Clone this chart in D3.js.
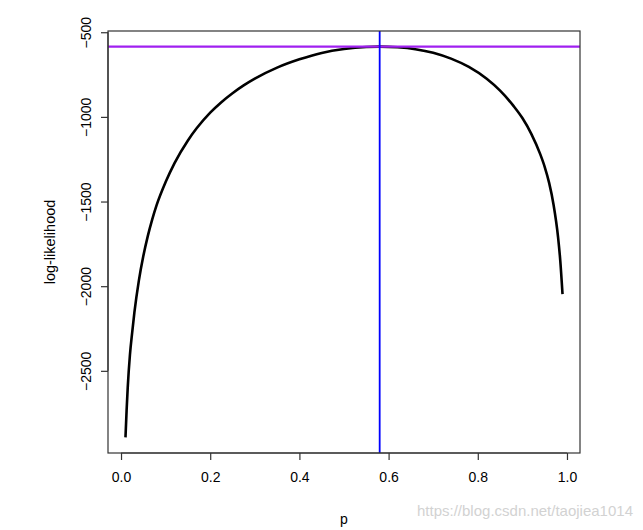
<!DOCTYPE html>
<html>
<head>
<meta charset="utf-8">
<script src="https://cdn.jsdelivr.net/npm/d3@7"></script>
<style>
  html, body { margin: 0; padding: 0; background: #fff; }
  svg { display: block; font-family: "Liberation Sans", Arial, Helvetica, sans-serif; }
</style>
</head>
<body>
<svg id="chart" width="643" height="530"></svg>
<script>
// ---- data ----
const pValues = [0.01, 0.0125, 0.015, 0.02, 0.025, 0.03, 0.04, 0.05, 0.06, 0.07, 0.08, 0.10, 0.12, 0.15, 0.17,
  0.20, 0.225, 0.25, 0.275, 0.30, 0.35, 0.40, 0.45, 0.50, 0.55, 0.58, 0.62, 0.66, 0.70, 0.74, 0.78, 0.82,
  0.85, 0.88, 0.90, 0.92, 0.94, 0.95, 0.96, 0.97, 0.98, 0.985, 0.99];
const logLik = [-2893, -2735, -2601, -2405, -2274, -2155, -1967, -1822, -1704, -1605, -1520, -1385, -1273, -1139, -1066,
  -975, -913, -860, -814, -774, -709, -660, -622, -599, -587, -585, -589, -600, -621, -656, -705, -775,
  -845, -935, -1007, -1100, -1220, -1295, -1390, -1520, -1710, -1850, -2047];
const xTicks = [0.0, 0.2, 0.4, 0.6, 0.8, 1.0];
const yTicks = [-2500, -2000, -1500, -1000, -500];
const pHat = 0.58;
const xLabel = "p";
const yLabel = "log-likelihood";
const watermark = "https://blog.csdn.net/taojiea1014";

// ---- layout ----
const svg = d3.select("#chart");
const box = { left: 108, right: 580, top: 31, bottom: 453 };

function expand(ext) { const r = ext[1] - ext[0]; return [ext[0] - 0.04 * r, ext[1] + 0.04 * r]; }
const x = d3.scaleLinear().domain(expand(d3.extent(pValues))).range([box.left, box.right]);
const y = d3.scaleLinear().domain(expand(d3.extent(logLik))).range([box.bottom, box.top]);

const data = pValues.map((p, i) => ({ p, v: logLik[i] }));
const maxLogLik = d3.max(logLik);

// clip
svg.append("clipPath").attr("id", "clip").append("rect")
  .attr("x", box.left).attr("y", box.top)
  .attr("width", box.right - box.left).attr("height", box.bottom - box.top);

const plot = svg.append("g").attr("clip-path", "url(#clip)");

// curve
plot.append("path")
  .datum(data)
  .attr("fill", "none")
  .attr("stroke", "#000")
  .attr("stroke-width", 2.6)
  .attr("stroke-linejoin", "round")
  .attr("stroke-linecap", "butt")
  .attr("d", d3.line().x(d => x(d.p)).y(d => y(d.v)).curve(d3.curveMonotoneX));

// horizontal purple line at max
plot.append("line")
  .attr("x1", box.left).attr("x2", box.right)
  .attr("y1", y(maxLogLik)).attr("y2", y(maxLogLik))
  .attr("stroke", "#A020F0").attr("stroke-width", 2.2);

// vertical blue line at p-hat
plot.append("line")
  .attr("x1", x(pHat)).attr("x2", x(pHat))
  .attr("y1", box.top).attr("y2", box.bottom)
  .attr("stroke", "#0000FF").attr("stroke-width", 1.8);

// box
svg.append("rect")
  .attr("x", box.left).attr("y", box.top)
  .attr("width", box.right - box.left).attr("height", box.bottom - box.top)
  .attr("fill", "none").attr("stroke", "#333").attr("stroke-width", 1.2);

// x axis
const xAxis = d3.axisBottom(x).tickValues(xTicks).tickFormat(d3.format(".1f")).tickSize(7).tickPadding(12);
const gx = svg.append("g").attr("transform", `translate(0,${box.bottom})`).call(xAxis);
gx.select(".domain").attr("stroke", "#333").attr("stroke-width", 1.2)
  .attr("d", `M${x(xTicks[0])},0H${x(xTicks[xTicks.length - 1])}`);
gx.selectAll(".tick line").attr("stroke", "#333").attr("stroke-width", 1.2);
gx.selectAll(".tick text").attr("font-size", 14).attr("fill", "#000")
  .attr("font-family", "Liberation Sans, Arial, sans-serif");

// y axis
const yAxis = d3.axisLeft(y).tickValues(yTicks).tickFormat(d3.format("d")).tickSize(7);
const gy = svg.append("g").attr("transform", `translate(${box.left},0)`).call(yAxis);
gy.select(".domain").attr("stroke", "#333").attr("stroke-width", 1.2)
  .attr("d", `M0,${y(yTicks[0])}V${y(yTicks[yTicks.length - 1])}`);
gy.selectAll(".tick line").attr("stroke", "#333").attr("stroke-width", 1.2);
gy.selectAll(".tick text")
  .attr("font-size", 14).attr("fill", "#000")
  .attr("font-family", "Liberation Sans, Arial, sans-serif")
  .attr("x", null).attr("dy", null)
  .attr("text-anchor", "middle")
  .attr("transform", "translate(-17.5,0) rotate(-90)");

// axis titles
svg.append("text")
  .attr("x", (box.left + box.right) / 2).attr("y", 524)
  .attr("text-anchor", "middle").attr("font-size", 14).attr("fill", "#000")
  .text(xLabel);

svg.append("text")
  .attr("transform", `translate(55,${(box.top + box.bottom) / 2}) rotate(-90)`)
  .attr("text-anchor", "middle").attr("font-size", 14.5).attr("fill", "#000")
  .text(yLabel);

// watermark
svg.append("text")
  .attr("x", 633).attr("y", 516)
  .attr("text-anchor", "end").attr("font-size", 15).attr("fill", "#d2d2d2")
  .text(watermark);
</script>
</body>
</html>
